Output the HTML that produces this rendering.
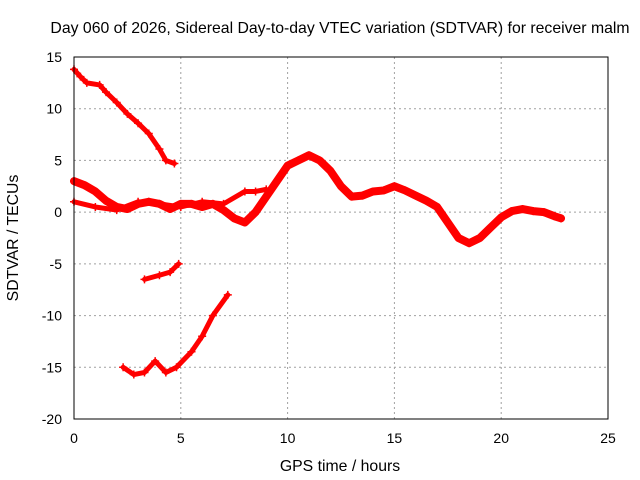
<!DOCTYPE html>
<html><head><meta charset="utf-8"><style>
html,body{margin:0;padding:0;background:#fff;}
svg{display:block;font-family:"Liberation Sans",sans-serif;}
</style></head><body>
<svg id="chart" width="640" height="480" viewBox="0 0 640 480" xmlns="http://www.w3.org/2000/svg">
<text x="340" y="33" font-size="15.8" text-anchor="middle">Day 060 of 2026, Sidereal Day-to-day VTEC variation (SDTVAR) for receiver malm</text>
<text x="340" y="471" font-size="15.8" text-anchor="middle">GPS time / hours</text>
<text transform="translate(18,238) rotate(-90)" font-size="15.8" text-anchor="middle">SDTVAR / TECUs</text>
<g id="grid"></g>
<g id="ticks"></g>
<g id="series"></g>
<rect x="74" y="57" width="534" height="362" fill="none" stroke="#000" stroke-width="1"/>
</svg>
<script>
const xTicks=[0,5,10,15,20,25];
const yTicks=[15,10,5,0,-5,-10,-15,-20];
const trackA=[[0,13.8],[0.3,13.1],[0.6,12.5],[1.2,12.3],[1.5,11.6],[2,10.6],[2.5,9.5],[3,8.6],[3.5,7.6],[4,6.1],[4.3,5],[4.7,4.7]];
const trackB=[[0,3],[0.5,2.6],[1,2],[1.5,1.1],[2,0.5],[2.5,0.3],[3,0.8],[3.5,1],[4,0.8],[4.5,0.3],[5,0.8],[5.5,0.8],[6,0.5],[6.5,0.8],[7,0.2],[7.5,-0.6],[8,-1],[8.5,0],[9,1.5],[9.5,3],[10,4.5],[10.5,5],[11,5.5],[11.5,5],[12,4],[12.5,2.5],[13,1.5],[13.5,1.6],[14,2],[14.5,2.1],[15,2.5],[15.5,2.1],[16,1.6],[16.5,1.1],[17,0.5],[17.5,-1],[18,-2.5],[18.5,-3],[19,-2.5],[19.5,-1.5],[20,-0.5],[20.5,0.1],[21,0.3],[21.5,0.1],[22,0],[22.5,-0.4],[22.8,-0.6]];
const trackC=[[0,1],[1,0.5],[2,0.2],[3,1],[4,0.8],[5,0.5],[6,1],[7,0.8],[8,2],[8.5,2],[9,2.2]];
const trackD=[[3.3,-6.5],[4,-6.1],[4.5,-5.8],[4.9,-5]];
const trackE=[[2.3,-15],[2.8,-15.7],[3.3,-15.5],[3.8,-14.4],[4.3,-15.5],[4.8,-15],[5.5,-13.5],[6,-12],[6.5,-10],[7.2,-8]];
const X0=74,X1=608,Y0=419,Y1=57;
const sx=v=>X0+(v-0)/(25-0)*(X1-X0);
const sy=v=>Y0-(v+20)/(35)*(Y0-Y1);
const NS="http://www.w3.org/2000/svg";
const grid=document.getElementById('grid'),ticks=document.getElementById('ticks'),ser=document.getElementById('series');
function mk(tag,attrs,parent){const e=document.createElementNS(NS,tag);for(const k in attrs)e.setAttribute(k,attrs[k]);parent.appendChild(e);return e;}
xTicks.forEach(t=>{const x=sx(t);
 if(t>0&&t<25){const g=mk('line',{x1:x,x2:x,y1:Y1,y2:Y0,stroke:'#a0a0a0','stroke-dasharray':'2,3'},grid);
 
 }
 const tl=mk('text',{x:x,y:443,'font-size':14,'text-anchor':'middle'},ticks);tl.textContent=t;
 
 });
yTicks.forEach(t=>{const y=sy(t);
 if(t>-20&&t<15){const g=mk('line',{x1:X0,x2:X1,y1:y,y2:y,stroke:'#a0a0a0','stroke-dasharray':'2,3'},grid);
 
 }
 const tl=mk('text',{x:62,y:y+5,'font-size':14,'text-anchor':'end'},ticks);tl.textContent=t;
 
 });
function draw(tr,w,name){
 const p=mk('polyline',{points:tr.map(d=>sx(d[0])+','+sy(d[1])).join(' '),fill:'none',stroke:'#f00','stroke-width':w,'stroke-linejoin':'round','stroke-linecap':'round'},ser);
 
 
 tr.forEach(d=>{const x=sx(d[0]),y=sy(d[1]);
  const m=mk('path',{d:`M${x-4},${y}h8M${x},${y-4}v8`,stroke:'#f00','stroke-width':1.5},ser);
  
  });
}
draw(trackA,5,'track-a');
draw(trackB,8,'track-b');
draw(trackC,5,'track-c');
draw(trackD,5,'track-d');
draw(trackE,5,'track-e');
</script>
</body></html>
